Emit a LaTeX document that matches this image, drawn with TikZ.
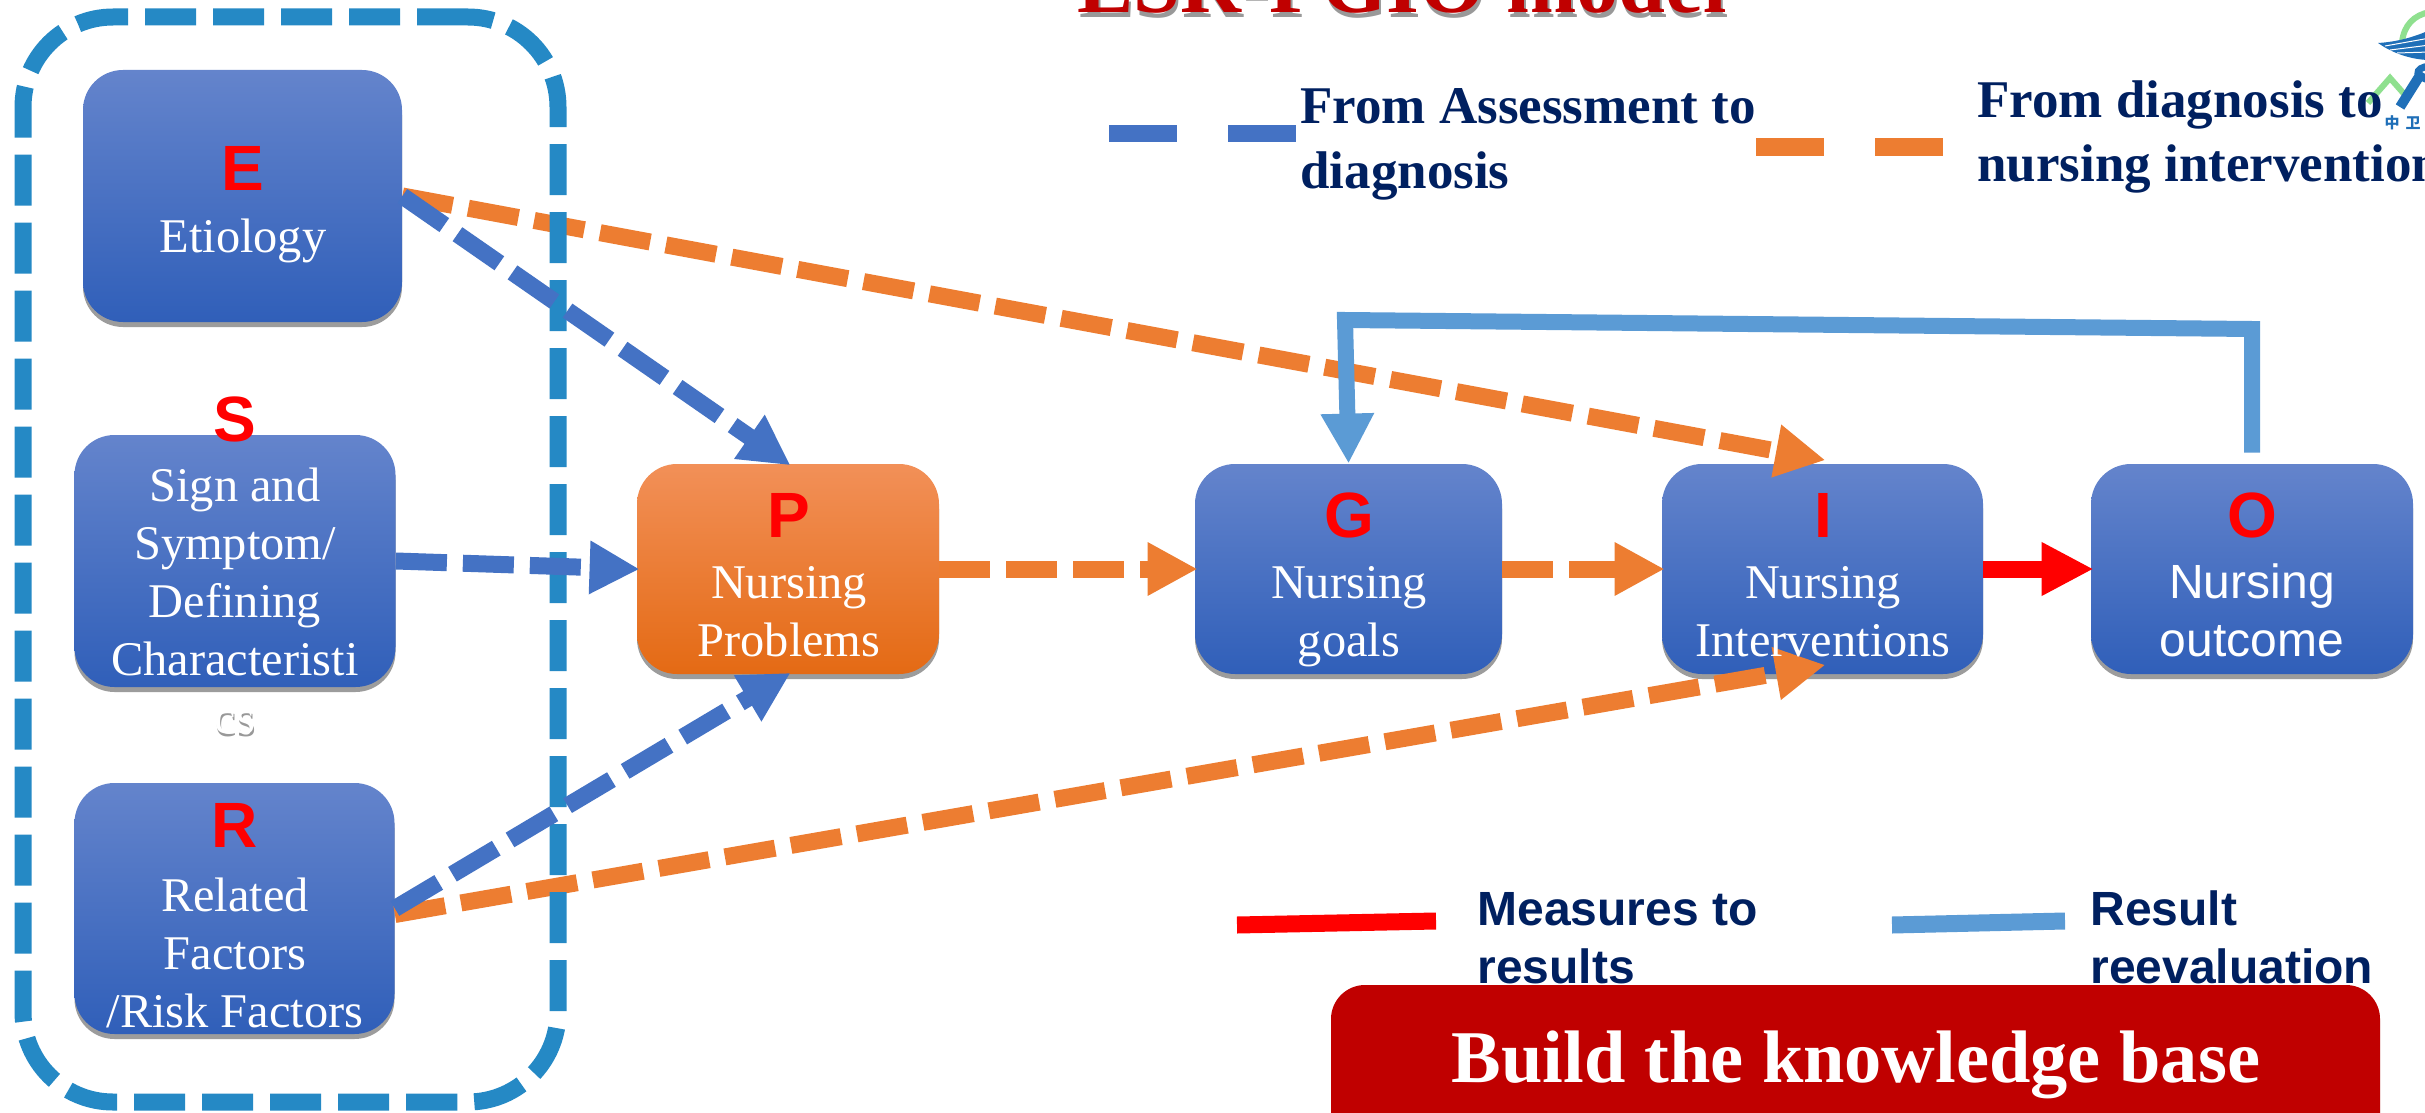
\documentclass[tikz,border=0pt]{standalone}
\usepackage{fontspec}
\setmainfont{Liberation Serif}
\setsansfont{Liberation Sans}
\newfontfamily\cjkfont{Noto Sans CJK SC}
\usetikzlibrary{arrows.meta,calc,shadows}
\definecolor{bluetop}{HTML}{6484CC}
\definecolor{bluemid}{HTML}{4370C8}
\definecolor{bluebot}{HTML}{305FB9}
\definecolor{ortop}{HTML}{F29058}
\definecolor{ormid}{HTML}{F57E2E}
\definecolor{orbot}{HTML}{E46A14}
\definecolor{linkblue}{HTML}{4472C4}
\definecolor{linkorange}{HTML}{ED7D31}
\definecolor{groupblue}{HTML}{2589C5}
\definecolor{feedblue}{HTML}{5B9BD5}
\definecolor{navy}{HTML}{002060}
\definecolor{darkred}{HTML}{C00000}
\definecolor{logogreen}{HTML}{8FE08F}
\definecolor{logoblue}{HTML}{1F6FB8}
\tikzset{
  x=0.5pt,y=-0.5pt,
  boxbase/.style={rectangle,rounded corners=20pt,inner sep=0pt,
    drop shadow={opacity=.55,shadow xshift=0pt,shadow yshift=-2.5pt,fill=black!70}},
  bluebox/.style={boxbase,top color=bluetop,middle color=bluemid,bottom color=bluebot},
  orbox/.style={boxbase,top color=ortop,middle color=ormid,bottom color=orbot},
  letter/.style={anchor=base,text=red,font=\sffamily\bfseries\fontsize{32}{36}\selectfont,inner sep=0pt},
  boxtext/.style={anchor=base,text=white,align=center,inner sep=0pt,font=\fontsize{24.2}{29}\selectfont},
  sanstext/.style={anchor=base,text=white,align=center,inner sep=0pt,font=\sffamily\fontsize{24}{29}\selectfont},
  legserif/.style={anchor=base west,text=navy,align=left,inner sep=0pt,font=\bfseries\fontsize{26.5}{32.3}\selectfont},
  legsans/.style={anchor=base west,text=navy,align=left,inner sep=0pt,font=\sffamily\bfseries\fontsize{24}{28.6}\selectfont},
  bluelink/.style={draw=linkblue,line width=8.5pt,dash pattern=on 25.5pt off 8pt,shorten >=-1.5pt,-{Triangle[length=25pt,width=25pt]},color=linkblue},
  orlink/.style={draw=linkorange,line width=8.5pt,dash pattern=on 25.5pt off 8pt,shorten >=-1.5pt,-{Triangle[length=25pt,width=25pt]},color=linkorange},
  legdash/.style={line width=8.5pt,dash pattern=on 34pt off 25.5pt},
  legsolid/.style={line width=8.5pt},
}
\begin{document}
\begin{tikzpicture}
\path[use as bounding box,clip] (0,0) rectangle (2425,1113);
\fill[white] (0,0) rectangle (2425,1113);

% logo (cropped by the right edge)
\draw[logogreen,line width=3pt] (2402,42) .. controls (2404,25) and (2414,15) .. (2430,12);
\fill[logoblue] (2378,43) .. controls (2395,42) and (2412,38) .. (2430,30) -- (2430,60)
  .. controls (2415,60) and (2395,55) .. cycle;
\draw[white,line width=.5pt] (2385,46) -- (2430,38) (2390,50) -- (2430,45) (2397,53) -- (2430,52);
\draw[logogreen,line width=3pt] (2368,103) -- (2390,78) -- (2405,95);
\draw[logoblue,line width=5pt] (2400,107) -- (2422,72);
\draw[logoblue,line width=3.5pt] (2430,66) .. controls (2412,68) and (2416,78) .. (2430,80);

% title
\node[anchor=base,inner sep=0pt,text=black!40,font=\bfseries\fontsize{42.2}{48}\selectfont] (titleshadow) at (1404,18) {ESR-PGIO model};
\node[anchor=base,inner sep=0pt,text=darkred,font=\bfseries\fontsize{42.2}{48}\selectfont] (title) at (1402,13) {ESR-PGIO model};

% boxes
\node[bluebox,minimum width=159.5pt,minimum height=126pt] (E) at (242.5,196) {};
\node[bluebox,minimum width=160.5pt,minimum height=126pt] (S) at (235,561) {};
\node[bluebox,minimum width=160pt,minimum height=125.5pt] (R) at (234.5,908.5) {};
\node[orbox,minimum width=151pt,minimum height=105pt] (P) at (788,569) {};
\node[bluebox,minimum width=153.5pt,minimum height=105pt] (G) at (1348.5,569) {};
\node[bluebox,minimum width=160.5pt,minimum height=105pt] (I) at (1822.5,569) {};
\node[bluebox,minimum width=161pt,minimum height=105pt] (O) at (2252,569) {};

% orange links under the group frame
\draw[orlink] (E.east) -- ($(I.north)+(0,-4)$);
\draw[orlink] ($(R.east)+(0,6)$) -- ($(I.south)+(0,-9)$);

% group frame
\node[draw=groupblue,line width=8.5pt,dash pattern=on 25.5pt off 8.5pt,rectangle,rounded corners=45pt,
  minimum width=267.5pt,minimum height=542.5pt,inner sep=0pt] (group) at (290.5,559.5) {};

% links
\draw[bluelink] (E.east) -- (P.north);
\draw[bluelink] (S.east) -- (P.west);
\draw[bluelink] (R.east) -- (P.south);
\draw[orlink] (P.east) -- (G.west);
\draw[orlink] (G.east) -- (I.west);
\draw[red,line width=8.5pt,shorten >=-1.5pt,-{Triangle[length=26pt,width=25pt]}] (I.east) -- (O.west);
\coordinate (fbR) at (2252,329);
\coordinate (fbL) at (1345,320);
\draw[feedblue,line width=8pt,line join=miter,shorten >=-1.5pt,-{Triangle[length=25pt,width=25pt]}]
  ($(O.north)+(0,-11)$) -- (fbR) -- (fbL) -- ($(G.north)+(0,-3)$);

% box texts
\node[letter] (Eletter) at (243,191) {E};
\node[boxtext] (Etext) at (243,252) {Etiology};
\node[letter] (Sletter) at (235,441) {S};
\node[anchor=base,inner sep=0pt,text=black!40,font=\fontsize{24.2}{29}\selectfont] (csshadow) at (236,736) {cs};
\node[boxtext] (Stext) at (235,733) {Sign and\\Symptom/\\Defining\\Characteristi\\cs};
\node[letter] (Rletter) at (235,847) {R};
\node[boxtext] (Rtext) at (235,1027) {Related\\Factors\\/Risk Factors};
\node[letter] (Pletter) at (789,537) {P};
\node[boxtext] (Ptext) at (789,656) {Nursing\\Problems};
\node[letter] (Gletter) at (1349,537) {G};
\node[boxtext] (Gtext) at (1349,656) {Nursing\\goals};
\node[letter] (Iletter) at (1823,537) {I};
\node[boxtext] (Itext) at (1823,656) {Nursing\\Interventions};
\node[letter] (Oletter) at (2252,537) {O};
\node[sanstext] (Otext) at (2252,656) {Nursing\\outcome};

% legends
\coordinate (la1) at (1109,134); \coordinate (la2) at (1297,134);
\draw[linkblue,legdash] (la1) -- (la2);
\node[legserif] (latext) at (1300,188) {From Assessment to\\diagnosis};
\coordinate (lb1) at (1756,147); \coordinate (lb2) at (1944,147);
\draw[linkorange,legdash] (lb1) -- (lb2);
\node[legserif] (lbtext) at (1977,182) {From diagnosis to\\nursing interventions};
\coordinate (lc1) at (1237,925); \coordinate (lc2) at (1436,921);
\draw[red,legsolid] (lc1) -- (lc2);
\node[legsans] (lctext) at (1477,983) {Measures to\\results};
\coordinate (ld1) at (1892,925); \coordinate (ld2) at (2065,921);
\draw[feedblue,legsolid] (ld1) -- (ld2);
\node[legsans] (ldtext) at (2090,983) {Result\\reevaluation};

% logo characters
\node[inner sep=0pt,text=logoblue,font=\cjkfont\bfseries\fontsize{7.5}{8}\selectfont] (logoa) at (2392,123) {中};
\node[inner sep=0pt,text=logoblue,font=\cjkfont\bfseries\fontsize{7.5}{8}\selectfont] (logob) at (2413,123) {卫};

% knowledge base banner
\node[rectangle,fill=darkred,rounded corners=17pt,minimum width=524.5pt,minimum height=110pt,inner sep=0pt,
  drop shadow={opacity=.3,shadow xshift=0pt,shadow yshift=-1pt}] (banner) at (1855.5,1095) {};
\node[anchor=base,inner sep=0pt,text=white,font=\bfseries\fontsize{37.2}{42}\selectfont] (bannertext) at (1856,1082) {Build the knowledge base};
\end{tikzpicture}
\end{document}
